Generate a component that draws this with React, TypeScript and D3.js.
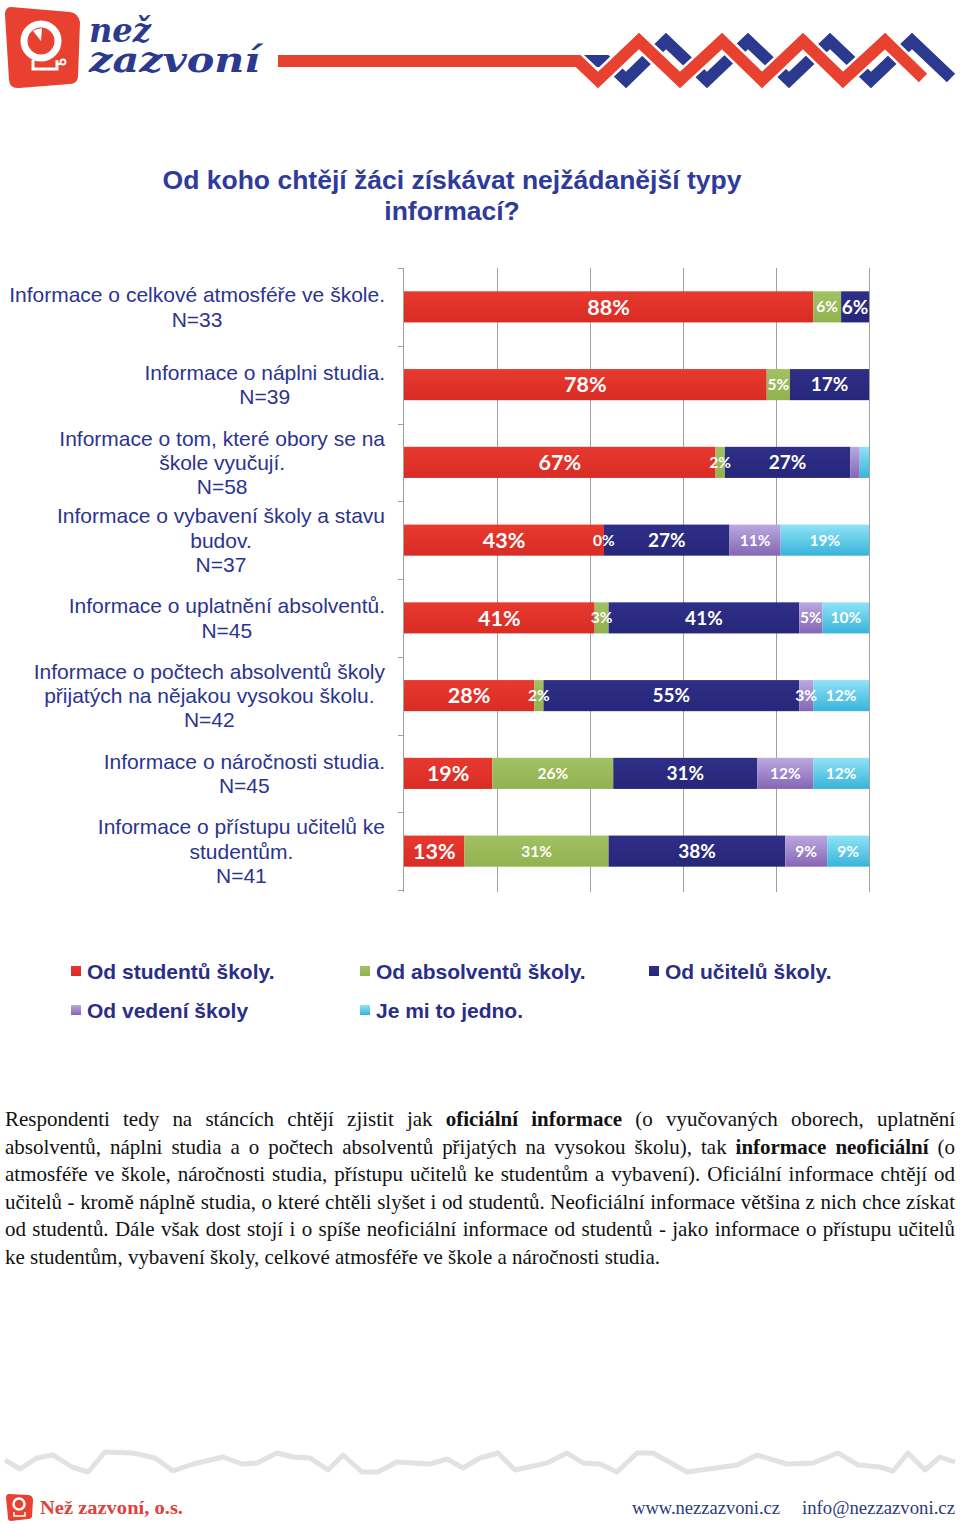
import React, { useEffect, useRef } from "react";
import * as d3 from "d3";

// ---------- DATA ----------
const categories = [
  "Informace o celkové atmosféře ve škole.\nN=33",
  "Informace o náplni studia.\nN=39",
  "Informace o tom, které obory se na\nškole vyučují.\nN=58",
  "Informace o vybavení školy a stavu\nbudov.\nN=37",
  "Informace o uplatnění absolventů.\nN=45",
  "Informace o počtech absolventů školy\npřijatých na nějakou vysokou školu.\nN=42",
  "Informace o náročnosti studia.\nN=45",
  "Informace o přístupu učitelů ke\nstudentům.\nN=41",
];
const seriesNames = [
  "Od studentů školy.",
  "Od absolventů školy.",
  "Od učitelů školy.",
  "Od vedení školy",
  "Je mi to jedno.",
];
const odStudentu = [88, 78, 67, 43, 41, 28, 19, 13];
const odAbsolventu = [6, 5, 2, 0, 3, 2, 26, 31];
const odUcitelu = [6, 17, 27, 27, 41, 55, 31, 38];
const odVedeni = [0, 0, 2, 11, 5, 3, 12, 9];
const jeMiToJedno = [0, 0, 2, 19, 10, 12, 12, 9];
const xTicks = [0, 20, 40, 60, 80, 100];

const titleLines = ["Od koho chtějí žáci získávat nejžádanější typy", "informací?"];
const bodyLines = [
  "Respondenti tedy na stáncích chtějí zjistit jak **oficiální informace** (o vyučovaných oborech, uplatnění",
  "absolventů, náplni studia a o počtech absolventů přijatých na vysokou školu), tak **informace neoficiální** (o",
  "atmosféře ve škole, náročnosti studia, přístupu učitelů ke studentům a vybavení). Oficiální informace chtějí od",
  "učitelů - kromě náplně studia, o které chtěli slyšet i od studentů. Neoficiální informace většina z nich chce získat",
  "od studentů. Dále však dost stojí i o spíše neoficiální informace od studentů - jako informace o přístupu učitelů",
  "ke studentům, vybavení školy, celkové atmosféře ve škole a náročnosti studia.",
];

const seriesColors = [
  ["#E8392F", "#D82C24"],
  ["#A2C163", "#92B250"],
  ["#2F2F88", "#26267A"],
  ["#BBA8E0", "#8466B4"],
  ["#8FE3F6", "#38B3DA"],
];

export default function App() {
  const ref = useRef<SVGSVGElement | null>(null);

  useEffect(() => {
    document.body.style.margin = "0";
    const svg = d3.select(ref.current!);
    svg.selectAll("*").remove();

    const defs = svg.append("defs");
    seriesColors.forEach((c, i) => {
      const g = defs
        .append("linearGradient")
        .attr("id", "grad" + i)
        .attr("x1", 0)
        .attr("y1", 0)
        .attr("x2", 0)
        .attr("y2", 1);
      g.append("stop").attr("offset", "0%").attr("stop-color", c[0]);
      g.append("stop").attr("offset", "100%").attr("stop-color", c[1]);
    });

    // ---------- HEADER ----------
    const head = svg.append("g");
    head
      .append("path")
      .attr("d", "M11,7 L70,12 Q78,13 80,22 L78,77 Q77,84 70,84 L19,88 Q10,89 9,80 L5,15 Q5,7 11,7 Z")
      .attr("fill", "#E8412F");
    head.append("circle").attr("cx", 41).attr("cy", 41).attr("r", 17).attr("fill", "none").attr("stroke", "#fff").attr("stroke-width", 7);
    head.append("path").attr("d", "M41,41 L33,31 A12.5,12.5 0 0,1 42,28.5 Z").attr("fill", "#fff");
    head.append("path").attr("d", "M33,60 L33,69 L57,69 L57,60").attr("fill", "none").attr("stroke", "#fff").attr("stroke-width", 3);
    head.append("path").attr("d", "M57,64 L61,64").attr("stroke", "#fff").attr("stroke-width", 2);
    head.append("circle").attr("cx", 63).attr("cy", 62).attr("r", 2.5).attr("fill", "none").attr("stroke", "#fff").attr("stroke-width", 1.8);
    const logoText = head
      .append("text")
      .attr("font-family", "DejaVu Serif")
      .attr("font-weight", "bold")
      .attr("font-style", "italic")
      .attr("fill", "#2B3A8F");
    logoText
      .append("tspan")
      .attr("x", 89)
      .attr("y", 42)
      .attr("font-size", 33)
      .attr("textLength", 62)
      .attr("lengthAdjust", "spacingAndGlyphs")
      .text("než");
    logoText
      .append("tspan")
      .attr("x", 89)
      .attr("y", 72)
      .attr("font-size", 36)
      .attr("textLength", 171)
      .attr("lengthAdjust", "spacingAndGlyphs")
      .text("zazvoní");
    head
      .append("path")
      .attr("d", "M583,61 L606,61 L626,80 L666,41 L707,80 L748,41 L789,80 L830,41 L871,80 L912,41 L951,78")
      .attr("fill", "none")
      .attr("stroke", "#2B3A8F")
      .attr("stroke-width", 12);
    const redZig = "M278,61 L578,61 L598,80 L639,41 L680,80 L722,41 L762,80 L803,41 L843,80 L885,41 L923,78";
    head.append("path").attr("d", redZig).attr("fill", "none").attr("stroke", "#fff").attr("stroke-width", 17);
    head.append("path").attr("d", redZig).attr("fill", "none").attr("stroke", "#E8412F").attr("stroke-width", 12);

    // ---------- TITLE ----------
    titleLines.forEach((t, i) => {
      svg
        .append("text")
        .attr("x", 452)
        .attr("y", 189 + i * 31)
        .attr("text-anchor", "middle")
        .attr("font-family", "Liberation Sans, Arial, sans-serif")
        .attr("font-weight", "bold")
        .attr("font-size", 26.5)
        .attr("fill", "#2E3B9A")
        .text(t);
    });

    // ---------- CHART ----------
    const x = d3.scaleLinear().domain([0, 100]).range([404, 869]);
    const y = d3.scaleBand<string>().domain(categories).range([268, 890]).paddingInner(0.6).paddingOuter(0.3);
    const step = y.step();
    const top = 268;
    const bottom = 890;

    const grid = svg.append("g");
    grid
      .selectAll("line.g")
      .data(xTicks.slice(1))
      .join("line")
      .attr("x1", (d) => Math.round(x(d)) + 0.5)
      .attr("x2", (d) => Math.round(x(d)) + 0.5)
      .attr("y1", top)
      .attr("y2", bottom + 2)
      .attr("stroke", "#A0A0A0")
      .attr("stroke-width", 1);
    grid
      .append("line")
      .attr("x1", 403.5)
      .attr("x2", 403.5)
      .attr("y1", top)
      .attr("y2", bottom + 2)
      .attr("stroke", "#A0A0A0");
    grid
      .selectAll("line.t")
      .data(d3.range(categories.length + 1))
      .join("line")
      .attr("x1", 398)
      .attr("x2", 404)
      .attr("y1", (i) => Math.round(top + i * step) + 0.5)
      .attr("y2", (i) => Math.round(top + i * step) + 0.5)
      .attr("stroke", "#A0A0A0");

    const rows = categories.map((c, i) => ({
      cat: c,
      s0: odStudentu[i],
      s1: odAbsolventu[i],
      s2: odUcitelu[i],
      s3: odVedeni[i],
      s4: jeMiToJedno[i],
    }));
    const keys = ["s0", "s1", "s2", "s3", "s4"];
    const stacked = d3.stack<any>().keys(keys)(rows);

    const barsG = svg.append("g");
    stacked.forEach((layer, si) => {
      barsG
        .selectAll("rect.s" + si)
        .data(layer)
        .join("rect")
        .attr("x", (d) => x(d[0]))
        .attr("width", (d) => Math.max(0, x(d[1]) - x(d[0])))
        .attr("y", (d) => y(d.data.cat)!)
        .attr("height", y.bandwidth())
        .attr("fill", `url(#grad${si})`);
    });
    const labelSize = [21.5, 15.5, 19, 15.5, 15.5];
    stacked.forEach((layer, si) => {
      barsG
        .selectAll("text.s" + si)
        .data(layer.filter((d) => si < 3 || d[1] - d[0] >= 3))
        .join("text")
        .attr("x", (d) => (x(d[0]) + x(d[1])) / 2)
        .attr("y", (d) => y(d.data.cat)! + y.bandwidth() / 2)
        .attr("dy", "0.36em")
        .attr("text-anchor", "middle")
        .attr("font-family", "Lato, sans-serif")
        .attr("font-weight", "bold")
        .attr("font-size", labelSize[si])
        .attr("fill", "#fff")
        .text((d) => Math.round(d[1] - d[0]) + "%");
    });

    // category labels
    const catG = svg.append("g");
    categories.forEach((c) => {
      const lines = c.split("\n");
      const cy = y(c)! + y.bandwidth() / 2;
      const lh = 24.3;
      const texts = lines.map((ln, li) =>
        catG
          .append("text")
          .attr("y", cy + (li - (lines.length - 1) / 2) * lh + 7.5)
          .attr("text-anchor", "middle")
          .attr("font-family", "Liberation Sans, Arial, sans-serif")
          .attr("font-size", 21)
          .attr("fill", "#2B3490")
          .text(ln)
      );
      const maxW = d3.max(texts, (t) => (t.node() as SVGTextElement).getComputedTextLength()) || 0;
      texts.forEach((t) => t.attr("x", 385 - maxW / 2));
    });

    // legend
    const legPos = [
      [71, 971],
      [360, 971],
      [649, 971],
      [71, 1010],
      [360, 1010],
    ];
    seriesNames.forEach((n, i) => {
      const [lx, ly] = legPos[i];
      svg.append("rect").attr("x", lx).attr("y", ly - 5).attr("width", 10).attr("height", 10).attr("fill", `url(#grad${i})`);
      svg
        .append("text")
        .attr("x", lx + 16)
        .attr("y", ly + 7.5)
        .attr("font-family", "Liberation Sans, Arial, sans-serif")
        .attr("font-weight", "bold")
        .attr("font-size", 21)
        .attr("fill", "#2A2E86")
        .text(n);
    });

    // ---------- BODY TEXT ----------
    const bodyG = svg.append("g");
    const L = 5;
    const R = 955;
    const parse = (s: string) => {
      const parts = s.split("**");
      const words: { t: string; b: boolean }[] = [];
      parts.forEach((p, pi) => {
        p.split(" ")
          .filter((w) => w.length > 0)
          .forEach((w) => words.push({ t: w, b: pi % 2 === 1 }));
      });
      return words;
    };
    const probe = bodyG
      .append("text")
      .attr("font-family", "Liberation Serif, Times New Roman, serif")
      .attr("font-size", 19)
      .text(bodyLines[bodyLines.length - 1]);
    const pw = (probe.node() as SVGTextElement).getComputedTextLength();
    probe.remove();
    let fs = 19 * (655 / (pw || 655));
    fs = Math.max(17, Math.min(21, fs));
    bodyLines.forEach((line, li) => {
      const words = parse(line);
      const by = 1126 + li * 27.6;
      const els = words.map((w) =>
        bodyG
          .append("text")
          .attr("y", by)
          .attr("font-family", "Liberation Serif, Times New Roman, serif")
          .attr("font-size", fs)
          .attr("font-weight", w.b ? "bold" : "normal")
          .attr("fill", "#111")
          .text(w.t)
      );
      const widths = els.map((e) => (e.node() as SVGTextElement).getComputedTextLength());
      const total = d3.sum(widths);
      const last = li === bodyLines.length - 1;
      const gap = last ? fs * 0.25 : (R - L - total) / (words.length - 1);
      let cx = L;
      els.forEach((e, i) => {
        e.attr("x", cx);
        cx += widths[i] + gap;
      });
    });

    // ---------- FOOTER ----------
    const foot = svg.append("g");
    const zig: [number, number][] = [
      [5, 1460], [20, 1469], [37, 1458], [53, 1455], [72, 1467], [88, 1472], [105, 1452], [133, 1453],
      [155, 1458], [173, 1471], [193, 1464], [223, 1457], [242, 1464], [257, 1463], [277, 1453], [293, 1457],
      [310, 1458], [328, 1470], [343, 1455], [362, 1472], [378, 1472], [397, 1462], [430, 1464], [447, 1459],
      [463, 1468], [480, 1458], [498, 1453], [515, 1470], [547, 1463], [567, 1453], [583, 1463], [600, 1464],
      [617, 1472], [637, 1453], [653, 1453], [687, 1472], [737, 1465], [757, 1455], [787, 1464], [813, 1463],
      [838, 1453], [858, 1465], [880, 1467], [893, 1471], [908, 1453], [925, 1470], [940, 1457], [955, 1462],
    ];
    foot
      .append("path")
      .attr("d", d3.line()(zig)!)
      .attr("fill", "none")
      .attr("stroke", "#E2E2E2")
      .attr("stroke-width", 5)
      .attr("stroke-linejoin", "round");
    foot
      .append("path")
      .attr("d", "M9,1494 L29,1495 Q33,1496 33,1500 L32,1516 Q32,1519 28,1519 L11,1521 Q8,1521 8,1518 L6,1498 Q6,1494 9,1494 Z")
      .attr("fill", "#E8412F");
    foot.append("circle").attr("cx", 19).attr("cy", 1504).attr("r", 5.5).attr("fill", "none").attr("stroke", "#fff").attr("stroke-width", 2.5);
    foot.append("path").attr("d", "M14,1512 L14,1516 L25,1516 L25,1512").attr("fill", "none").attr("stroke", "#fff").attr("stroke-width", 1.5);
    foot
      .append("text")
      .attr("x", 40)
      .attr("y", 1514)
      .attr("font-family", "Liberation Serif, serif")
      .attr("font-weight", "bold")
      .attr("font-size", 19)
      .attr("fill", "#E0413A")
      .attr("textLength", 143)
      .attr("lengthAdjust", "spacingAndGlyphs")
      .text("Než zazvoní, o.s.");
    foot
      .append("text")
      .attr("x", 632)
      .attr("y", 1514)
      .attr("font-family", "Liberation Serif, serif")
      .attr("font-size", 19)
      .attr("fill", "#2B3A80")
      .attr("textLength", 148)
      .attr("lengthAdjust", "spacingAndGlyphs")
      .text("www.nezzazvoni.cz");
    foot
      .append("text")
      .attr("x", 802)
      .attr("y", 1514)
      .attr("font-family", "Liberation Serif, serif")
      .attr("font-size", 19)
      .attr("fill", "#2B3A80")
      .attr("textLength", 153)
      .attr("lengthAdjust", "spacingAndGlyphs")
      .text("info@nezzazvoni.cz");
  }, []);

  return (
    <svg
      ref={ref}
      width={960}
      height={1524}
      viewBox="0 0 960 1524"
      style={{ position: "absolute", left: 0, top: 0, display: "block", background: "#fff" }}
    />
  );
}
